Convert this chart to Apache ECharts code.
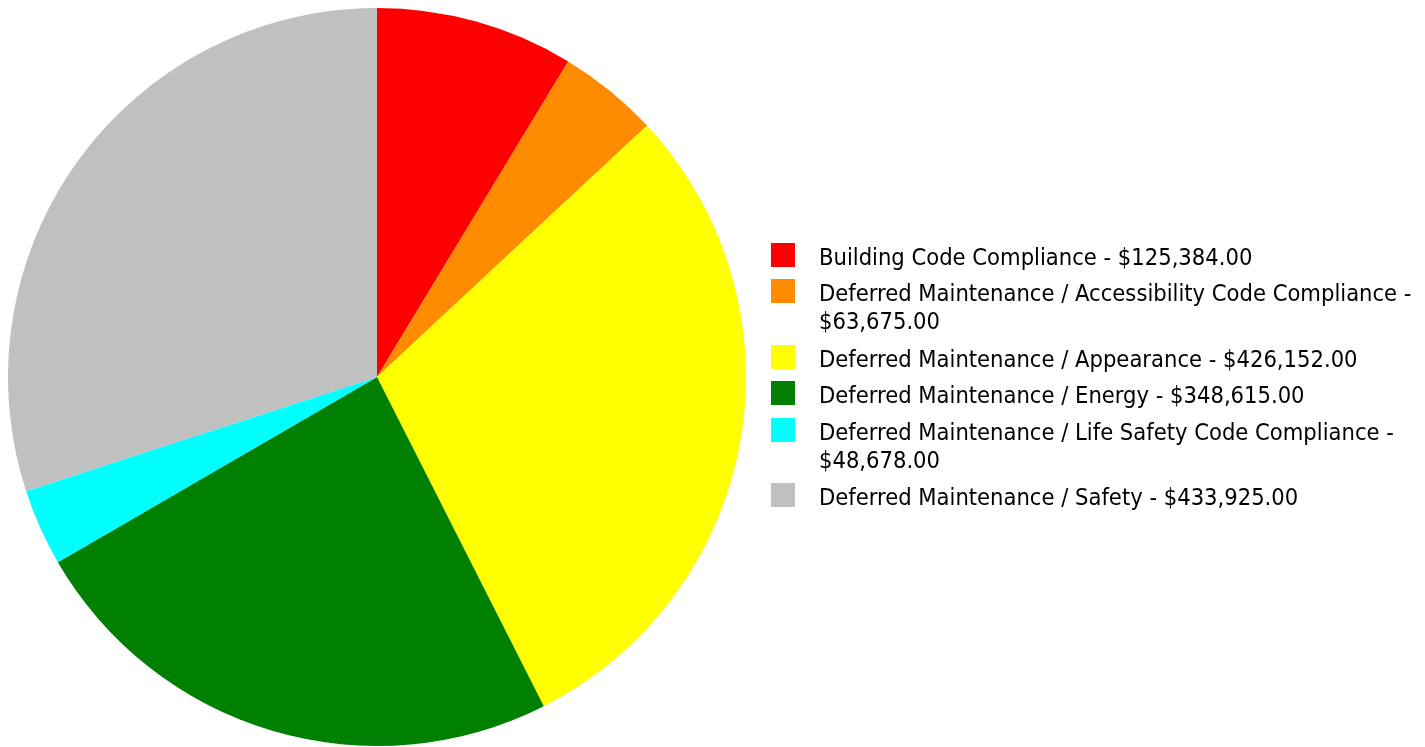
<!DOCTYPE html>
<html>
<head>
<meta charset="utf-8">
<script src="https://cdn.jsdelivr.net/npm/echarts@6/dist/echarts.min.js"></script>
<style>
html, body { margin: 0; padding: 0; background: #fff; }
#main { width: 1425px; height: 747px; }
</style>
</head>
<body>
<div id="main"></div>
<script>
// categories and amounts
var categories = [
	'Building Code Compliance',
	'Deferred Maintenance / Accessibility Code Compliance',
	'Deferred Maintenance / Appearance',
	'Deferred Maintenance / Energy',
	'Deferred Maintenance / Life Safety Code Compliance',
	'Deferred Maintenance / Safety'
];
var amounts = [125384, 63675, 426152, 348615, 48678, 433925];
var colors = ['#ff0000', '#ff8c00', '#ffff00', '#008000', '#00ffff', '#c0c0c0'];

// legend rows: top of each square and whether the label wraps
var squareTops = [243, 279, 345, 381, 418, 483];
var wraps = [false, true, false, false, true, false];

var LINE_H = 28;
var ICON_BOX = 32;
//24px square at the top of a 24x32 box, so the text sits a little below the square centre
var squareIcon = 'path://M0,0H24V24H0Z M0,32L0,32';

function money(v) {
	return '$' + v.toFixed(2).replace(/\B(?=(\d{3})+(?!\d))/g, ',');
}

var chart = echarts.init(document.getElementById('main'));

var pieData = [];
categories.forEach(function(name, i) {
	pieData.push({
		name: name,
		value: amounts[i],
		itemStyle: { color: colors[i] }
	});
});

//one legend per row so wrapped rows keep the square next to the first line
var legends = [];
categories.forEach(function(name, i) {
	var textH = (wraps[i] ? 3 : 1) * LINE_H;
	var lift = Math.max(0, textH / 2 - ICON_BOX / 2);
	legends.push({
		show: true,
		orient: 'vertical',
		left: 771,
		top: squareTops[i] - lift,
		padding: 0,
		itemWidth: 24,
		itemHeight: ICON_BOX,
		itemGap: 0,
		icon: squareIcon,
		selectedMode: false,
		data: [name],
		formatter: function(n) {
			var k = categories.indexOf(n);
			//empty first line keeps the square beside the first text line
			return (wraps[k] ? '\n' : '') + n + ' - ' + money(amounts[k]);
		},
		textStyle: {
			fontFamily: '"DejaVu Sans Condensed", "DejaVu Sans", sans-serif',
			fontSize: 23.5,
			color: '#000',
			lineHeight: LINE_H,
			padding: [0, 0, 0, 19],
			width: 606,
			overflow: 'break'
		}
	});
});

chart.setOption({
	animation: false,
	backgroundColor: '#fff',
	legend: legends,
	series: [{
		type: 'pie',
		center: [377, 377],
		radius: 369,
		startAngle: 90,
		clockwise: true,
		label: { show: false },
		labelLine: { show: false },
		itemStyle: { borderWidth: 0 },
		emphasis: { disabled: true },
		data: pieData
	}]
});
</script>
</body>
</html>
